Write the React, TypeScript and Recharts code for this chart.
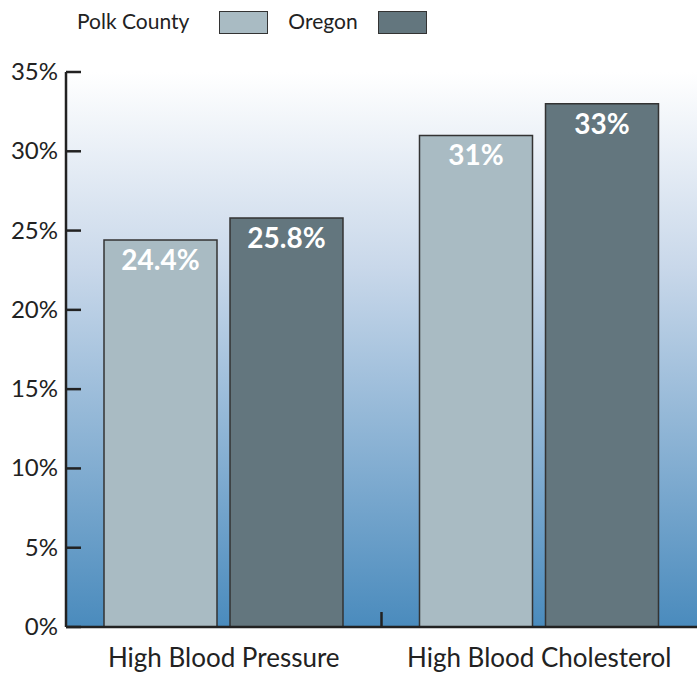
import React from 'react';
import { BarChart, Bar, XAxis, YAxis, CartesianGrid, LabelList } from 'recharts';

const categories = ['High Blood Pressure', 'High Blood Cholesterol'];
const polkCounty = [24.4, 31];
const oregon = [25.8, 33];
const yTicks = [0, 5, 10, 15, 20, 25, 30, 35];

const POLK_COLOR = '#a9bbc3';
const OREGON_COLOR = '#63767e';
const FONT = 'Lato, "Open Sans", sans-serif';

const data = categories.map((name, i) => ({
  name,
  polk: polkCounty[i],
  oregon: oregon[i],
}));

const YTick = (props: any) => {
  const { x, y, payload } = props;
  const axisX = x + 8;
  return (
    <g>
      <line x1={axisX} x2={axisX + 15} y1={y} y2={y} stroke="#222" strokeWidth={2.5} />
      <text x={x} y={y} dy={8} textAnchor="end" fontSize={24} fill="#222" fontFamily={FONT}>
        {payload.value}%
      </text>
    </g>
  );
};

const XTick = (props: any) => {
  const { x, y, payload, index } = props;
  const half = payload.offset || 631 / 4;
  return (
    <g>
      {index === 0 && (
        <line x1={x + half} x2={x + half} y1={y - 20} y2={y - 35} stroke="#222" strokeWidth={2.5} />
      )}
      <text x={x} y={y} dy={20} textAnchor="middle" fontSize={26} fill="#222" fontFamily={FONT}>
        {payload.value}
      </text>
    </g>
  );
};

const LegendBox = ({ color }: { color: string }) => (
  <span
    style={{
      display: 'inline-block',
      width: 49,
      height: 23,
      background: color,
      border: '1.5px solid #333',
      boxSizing: 'border-box',
      verticalAlign: 'middle',
    }}
  />
);

export default function App() {
  return (
    <div style={{ position: 'absolute', left: 0, top: 0, width: 697, height: 675 }}>
      <div
        style={{
          position: 'absolute',
          left: 77,
          top: 7,
          fontFamily: FONT,
          fontSize: 21,
          color: '#222',
          display: 'flex',
          alignItems: 'center',
          whiteSpace: 'nowrap',
        }}
      >
        <span>Polk County</span>
        <span style={{ marginLeft: 30 }}><LegendBox color={POLK_COLOR} /></span>
        <span style={{ marginLeft: 20 }}>Oregon</span>
        <span style={{ marginLeft: 20 }}><LegendBox color={OREGON_COLOR} /></span>
      </div>
      <BarChart
        width={697}
        height={675}
        data={data}
        margin={{ top: 72, right: 0, bottom: 0, left: 0 }}
        barCategoryGap={38}
        barGap={13}
      >
        <defs>
          <linearGradient id="bgGrad" x1="0" y1="0" x2="0" y2="1">
            <stop offset="0%" stopColor="#ffffff" />
            <stop offset="35%" stopColor="#c9d8ea" />
            <stop offset="100%" stopColor="#4a8bbd" />
          </linearGradient>
        </defs>
        <CartesianGrid horizontal={false} vertical={false} fill="url(#bgGrad)" />
        <XAxis
          dataKey="name"
          height={48}
          axisLine={{ stroke: '#222', strokeWidth: 2.5 }}
          tickLine={false}
          tick={<XTick />}
          tickMargin={0}
          tickSize={20}
        />
        <YAxis
          width={66}
          domain={[0, 35]}
          ticks={yTicks}
          axisLine={{ stroke: '#222', strokeWidth: 2.5 }}
          tickLine={false}
          tickSize={8}
          tickMargin={0}
          tick={<YTick />}
          allowDataOverflow
        />
        <Bar dataKey="polk" fill={POLK_COLOR} stroke="#333" strokeWidth={1.5} isAnimationActive={false}>
          <LabelList
            dataKey="polk"
            position="insideTop"
            offset={10}
            formatter={(v: any) => `${v}%`}
            fill="#fff"
            fontSize={28}
            fontWeight="bold"
            fontFamily={FONT}
          />
        </Bar>
        <Bar dataKey="oregon" fill={OREGON_COLOR} stroke="#333" strokeWidth={1.5} isAnimationActive={false}>
          <LabelList
            dataKey="oregon"
            position="insideTop"
            offset={10}
            formatter={(v: any) => `${v}%`}
            fill="#fff"
            fontSize={28}
            fontWeight="bold"
            fontFamily={FONT}
          />
        </Bar>
      </BarChart>
    </div>
  );
}
